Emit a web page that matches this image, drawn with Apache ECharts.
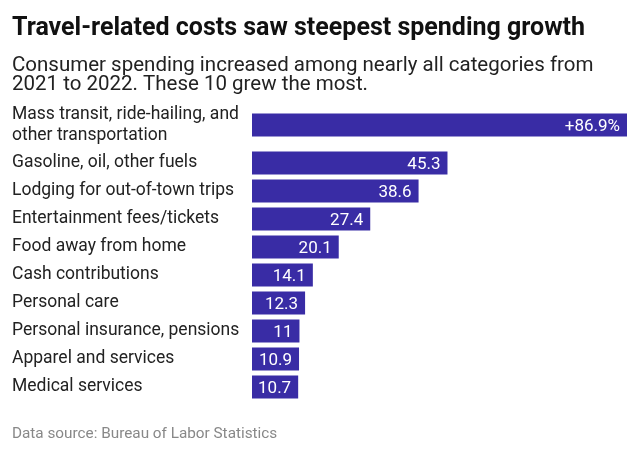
<!DOCTYPE html>
<html>
<head>
<meta charset="utf-8">
<script src="https://cdn.jsdelivr.net/npm/echarts@6/dist/echarts.min.js"></script>
<style>
  html, body { margin: 0; padding: 0; background: #fff; }
  #chart { width: 640px; height: 453px; }
</style>
</head>
<body>
<div id="chart"></div>
<script>
var categories = [
	'Mass transit, ride-hailing, and\nother transportation',
	'Gasoline, oil, other fuels',
	'Lodging for out-of-town trips',
	'Entertainment fees/tickets',
	'Food away from home',
	'Cash contributions',
	'Personal care',
	'Personal insurance, pensions',
	'Apparel and services',
	'Medical services'
];
var values = [86.9, 45.3, 38.6, 27.4, 20.1, 14.1, 12.3, 11, 10.9, 10.7];

var barColor = '#392ca5';
var font = 'Roboto';

var myChart = echarts.init(document.getElementById('chart'));

// first row is taller (two-line label), so it gets its own grid
var labelStyle = {
	show: true,
	position: 'insideRight',
	distance: 7,
	offset: [0, 1.5],
	color: '#fff',
	fontFamily: font,
	fontSize: 17
};
var yLabel = {
	align: 'left',
	margin: 240,
	color: '#222',
	fontFamily: font,
	fontSize: 17.5,
	lineHeight: 21,
	padding: [3, 0, 0, 0]
};

var option = {
	animation: false,
	title: [{
		text: 'Travel-related costs saw steepest spending growth',
		left: 12,
		top: 16,
		padding: 0,
		textStyle: { fontFamily: font, fontSize: 25, fontWeight: 'bold', color: '#111' }
	}, {
		text: 'Consumer spending increased among nearly all categories from\n2021 to 2022. These 10 grew the most.',
		left: 12,
		top: 56,
		padding: 0,
		textStyle: { fontFamily: font, fontSize: 20.5, fontWeight: 'normal', color: '#222', lineHeight: 19.5 }
	}, {
		text: 'Data source: Bureau of Labor Statistics',
		left: 12,
		top: 427,
		padding: 0,
		textStyle: { fontFamily: font, fontSize: 15.3, fontWeight: 'normal', color: '#888' }
	}],
	grid: [
		{ left: 252, right: 13, top: 111, height: 28 },
		{ left: 252, right: 13, top: 149, height: 252 }
	],
	xAxis: [
		{ gridIndex: 0, type: 'value', min: 0, max: 86.9, show: false },
		{ gridIndex: 1, type: 'value', min: 0, max: 86.9, show: false }
	],
	yAxis: [{
		gridIndex: 0,
		type: 'category',
		inverse: true,
		data: categories.slice(0, 1),
		axisLine: { show: false },
		axisTick: { show: false },
		axisLabel: yLabel
	}, {
		gridIndex: 1,
		type: 'category',
		inverse: true,
		data: categories.slice(1),
		axisLine: { show: false },
		axisTick: { show: false },
		axisLabel: yLabel
	}],
	series: [{
		type: 'bar',
		xAxisIndex: 0,
		yAxisIndex: 0,
		data: values.slice(0, 1),
		barWidth: 23,
		itemStyle: { color: barColor },
		label: Object.assign({}, labelStyle, { formatter: function(p) { return '+' + p.value + '%'; } })
	}, {
		type: 'bar',
		xAxisIndex: 1,
		yAxisIndex: 1,
		data: values.slice(1),
		barWidth: 23,
		itemStyle: { color: barColor },
		label: labelStyle
	}]
};
myChart.setOption(option);
</script>
</body>
</html>
